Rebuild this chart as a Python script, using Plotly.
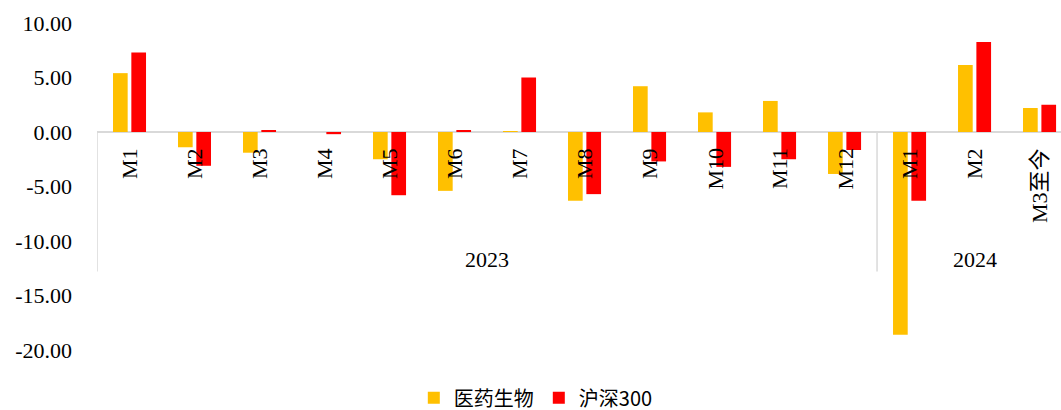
import plotly.graph_objects as go

months = ["M1", "M2", "M3", "M4", "M5", "M6", "M7", "M8", "M9", "M10", "M11", "M12",
          "M1", "M2", "M3至今"]
years = ["2023"] * 12 + ["2024"] * 3
year_labels = ["2023", "2024"]
pharma = [5.4, -1.4, -1.9, 0.0, -2.5, -5.4, 0.05, -6.3, 4.2, 1.8, 2.85, -3.85,
          -18.6, 6.15, 2.2]
hs300 = [7.3, -3.1, 0.1, -0.2, -5.8, 0.1, 5.0, -5.7, -2.7, -3.2, -2.5, -1.65,
         -6.3, 8.25, 2.5]
series_names = ["医药生物", "沪深300"]
y_ticks = [10, 5, 0, -5, -10, -15, -20]
y_tick_text = ["10.00", "5.00", "0.00", "-5.00", "-10.00", "-15.00", "-20.00"]

serif = "Liberation Serif, Noto Sans CJK SC"
xs = list(range(len(months)))

fig = go.Figure()
fig.add_trace(go.Bar(x=xs, y=pharma, name=series_names[0],
                     marker=dict(color="#FFC000", line=dict(width=0))))
fig.add_trace(go.Bar(x=xs, y=hs300, name=series_names[1],
                     marker=dict(color="#FF0000", line=dict(width=0))))

ann = []
for i, m in enumerate(months):
    ann.append(dict(x=i, y=0, xref="x", yref="y", text=m, showarrow=False,
                    textangle=-90, yanchor="top", xanchor="center", yshift=-14,
                    font=dict(family=serif, size=22, color="black")))

n2023 = years.count("2023")
groups = [(-0.5, n2023 - 0.5), (n2023 - 0.5, len(months) - 0.5)]
for (a, b), lab in zip(groups, year_labels):
    ann.append(dict(x=(a + b) / 2, y=-11.7, xref="x", yref="y", text=lab,
                    showarrow=False, yanchor="middle", xanchor="center",
                    font=dict(family=serif, size=22, color="black")))

shapes = []
for xb in [-0.5, n2023 - 0.5]:
    shapes.append(dict(type="line", xref="x", yref="y", x0=xb, x1=xb, y0=0, y1=-12.8,
                       line=dict(color="#D9D9D9", width=1.5)))

fig.update_layout(
    width=1061, height=410,
    margin=dict(l=97, r=0, t=23, b=60, autoexpand=False),
    paper_bgcolor="white", plot_bgcolor="white",
    barmode="group", bargap=0.435, bargroupgap=0.2,
    showlegend=True,
    legend=dict(orientation="h", xref="container", yref="container",
                x=0.505, xanchor="center", y=0.03, yanchor="middle",
                font=dict(family="Noto Sans CJK SC", size=20, color="black"),
                itemwidth=30, traceorder="normal"),
    annotations=ann, shapes=shapes,
    xaxis=dict(range=[-0.5, 14.33], showticklabels=False, showgrid=False,
               zeroline=False, showline=False, ticks="", automargin=False),
    yaxis=dict(range=[-20, 10], tickvals=y_ticks, ticktext=y_tick_text,
               showgrid=False, zeroline=True, zerolinecolor="#D9D9D9",
               zerolinewidth=1.5, showline=False, ticks="", automargin=False,
               ticklabelstandoff=24,
               tickfont=dict(family=serif, size=22, color="black")),
)

fig.write_html("out.html", config={"displayModeBar": False},
               post_script="document.body.style.margin='0';document.body.style.overflow='hidden';")
